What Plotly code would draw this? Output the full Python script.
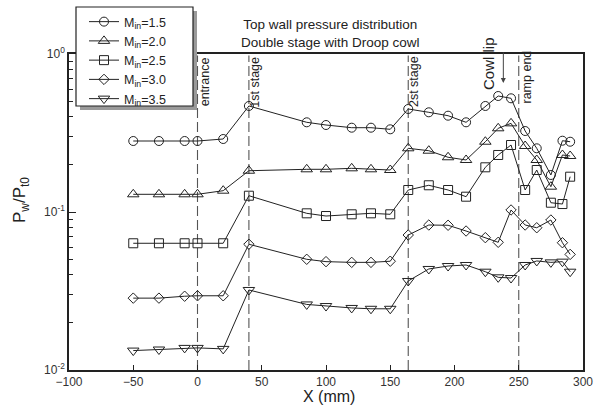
import plotly.graph_objects as go

# Axial stations (mm) of the wall pressure taps
x_mm = [-50, -30, -10, 0, 20, 40, 85, 100, 120, 135, 150, 164, 180, 195,
        209, 224, 234, 244, 255, 264, 275, 284, 290]

# Pw/Pt0 for each inlet Mach number
p_m15 = [0.2814, 0.2814, 0.2814, 0.2814, 0.2897, 0.4688, 0.3696, 0.3553, 0.3416,
         0.3416, 0.3337, 0.4487, 0.4276, 0.4069, 0.3696, 0.4688, 0.5422, 0.5243,
         0.3256, 0.2530, 0.1715, 0.2826, 0.2785]
p_m20 = [0.1294, 0.1294, 0.1294, 0.1294, 0.1364, 0.1825, 0.1863, 0.1863, 0.1890,
         0.1863, 0.1844, 0.2530, 0.2443, 0.2220, 0.2134, 0.2785, 0.3386, 0.3640,
         0.2616, 0.2134, 0.1446, 0.2296, 0.2262]
p_m25 = [0.0634, 0.0634, 0.0634, 0.0634, 0.0634, 0.1268, 0.0981, 0.0943, 0.0967,
         0.0981, 0.0967, 0.1378, 0.1476, 0.1378, 0.1250, 0.1918, 0.2296, 0.2655,
         0.1378, 0.1844, 0.1145, 0.1123, 0.1673]
p_m30 = [0.0285, 0.0285, 0.0293, 0.0295, 0.0295, 0.0625, 0.0502, 0.0485, 0.0480,
         0.0480, 0.0488, 0.0715, 0.0827, 0.0824, 0.0758, 0.0688, 0.0643, 0.1030,
         0.0827, 0.0795, 0.0890, 0.0639, 0.0539]
p_m35 = [0.01327, 0.01348, 0.0138, 0.0138, 0.0136, 0.0321, 0.0260, 0.0254, 0.0247,
         0.0244, 0.0244, 0.0366, 0.0436, 0.0455, 0.0462, 0.0419, 0.0386, 0.0382,
         0.0462, 0.0490, 0.0480, 0.0485, 0.0419]

series_names = ["M<sub>in</sub>=1.5", "M<sub>in</sub>=2.0", "M<sub>in</sub>=2.5",
                "M<sub>in</sub>=3.0", "M<sub>in</sub>=3.5"]
series_values = [p_m15, p_m20, p_m25, p_m30, p_m35]
series_symbols = ["circle-open", "triangle-up-open", "square-open",
                  "diamond-open", "triangle-down-open"]
series_sizes = [9, 10, 9, 8, 10]

# Geometry stations marked with dashed lines
station_x = [0, 40, 164, 250]
station_labels = ["entrance", "1st stage", "2st stage", "ramp end"]
station_label_y = [0.912, 0.912, 0.912, 0.928]
station_label_shift = [7, 6, 6, 8]
cowl_lip_x = 238

x_ticks = [-100, -50, 0, 50, 100, 150, 200, 250, 300]
y_ticks = [0.01, 0.1, 1]
y_tick_text = ["10<sup>-2</sup>", "10<sup>-1</sup>", "10<sup>0</sup>"]
y_minor = [k * 10 ** e for e in (-2, -1) for k in range(2, 10)]

x_title = "X (mm)"
y_title = "P<sub>w</sub>/P<sub>t0</sub>"

ink = "#222222"
font_family = "Liberation Sans, Arial, sans-serif"

# Plot-area geometry in pixels (used to place paper-referenced items)
L, R, T, B = 69, 16, 54, 35
W, H = 599, 405
pw, ph = W - L - R, H - T - B


def px_x(x):
    return (x - L) / pw


def px_y(y):
    return (H - B - y) / ph


fig = go.Figure()
for name, vals, sym, sz in zip(series_names, series_values, series_symbols, series_sizes):
    fig.add_trace(go.Scatter(
        x=x_mm, y=vals, name=name, mode="lines+markers",
        line=dict(color=ink, width=1),
        marker=dict(symbol=sym, size=sz, color=ink, line=dict(width=1, color=ink)),
    ))

# Dashed station lines and their rotated labels
for sx, lab, ly, sh in zip(station_x, station_labels, station_label_y, station_label_shift):
    fig.add_shape(type="line", xref="x", yref="paper", x0=sx, x1=sx, y0=0, y1=0.995,
                  line=dict(color="#555555", width=1.1, dash="10px,4px"), layer="below")
    fig.add_annotation(x=sx, y=ly, xref="x", yref="paper", text=lab,
                       textangle=-90, showarrow=False, xanchor="center",
                       yanchor="middle", xshift=sh,
                       font=dict(size=12.5, color=ink, family=font_family))

fig.add_annotation(x=px_x(489), y=px_y(64), xref="paper", yref="paper", text="Cowl lip",
                   textangle=-90, showarrow=False, xanchor="center", yanchor="middle",
                   font=dict(size=15, color=ink, family=font_family))
fig.add_annotation(x=cowl_lip_x, y=px_y(83), xref="x", yref="paper", text="",
                   showarrow=True, ax=0, ay=-32, arrowhead=2, arrowsize=1,
                   arrowwidth=1, arrowcolor="#444444")

# Chart title
fig.add_annotation(x=px_x(330), y=px_y(33), xref="paper", yref="paper",
                   text="Top wall pressure distribution<br>Double stage with Droop cowl",
                   showarrow=False, xanchor="center", yanchor="middle",
                   font=dict(size=13.5, color=ink, family=font_family))

# Axis titles
fig.add_annotation(x=px_x(329), y=px_y(396), xref="paper", yref="paper",
                   text=x_title, showarrow=False, xanchor="center", yanchor="middle",
                   font=dict(size=16, color=ink, family=font_family))
fig.add_annotation(x=px_x(21), y=px_y(200), xref="paper", yref="paper",
                   text=y_title, textangle=-90, showarrow=False,
                   xanchor="center", yanchor="middle",
                   font=dict(size=17, color=ink, family=font_family))

# Legend frame with its drop shadow
fig.add_shape(type="rect", xref="paper", yref="paper",
              x0=px_x(80), x1=px_x(197), y0=px_y(110), y1=px_y(11),
              fillcolor="#9a9a9a", line=dict(width=0), layer="above")
fig.add_shape(type="rect", xref="paper", yref="paper",
              x0=px_x(76), x1=px_x(193), y0=px_y(106), y1=px_y(7),
              fillcolor="white", line=dict(width=1.2, color=ink), layer="above")

fig.update_layout(
    width=W, height=H,
    margin=dict(l=L, r=R, t=T, b=B, autoexpand=False),
    paper_bgcolor="white", plot_bgcolor="white",
    font=dict(family=font_family, color=ink, size=12),
    showlegend=True,
    legend=dict(
        xref="container", yref="container",
        x=84 / W, y=1 - 7 / H, xanchor="left", yanchor="top",
        bgcolor="rgba(0,0,0,0)", borderwidth=0,
        font=dict(size=12.5, color=ink, family=font_family),
        itemwidth=30, tracegroupgap=0,
    ),
    xaxis=dict(
        range=[-100, 300], tickvals=x_ticks, ticks="inside", ticklen=5,
        tickcolor=ink, showline=True, linecolor=ink, linewidth=1.5, mirror=True,
        showgrid=False, zeroline=False,
        tickfont=dict(size=12, color="#333333"),
    ),
    yaxis=dict(
        type="log", range=[-2, 0], tickvals=y_ticks, ticktext=y_tick_text,
        ticks="inside", ticklen=7, tickcolor=ink, showline=True, linecolor=ink,
        linewidth=1.5, mirror=True, showgrid=False, zeroline=False,
        tickfont=dict(size=12, color="#333333"),
        minor=dict(tickvals=y_minor, ticks="inside", ticklen=4, tickcolor=ink),
    ),
)

fig.write_html("out.html")
